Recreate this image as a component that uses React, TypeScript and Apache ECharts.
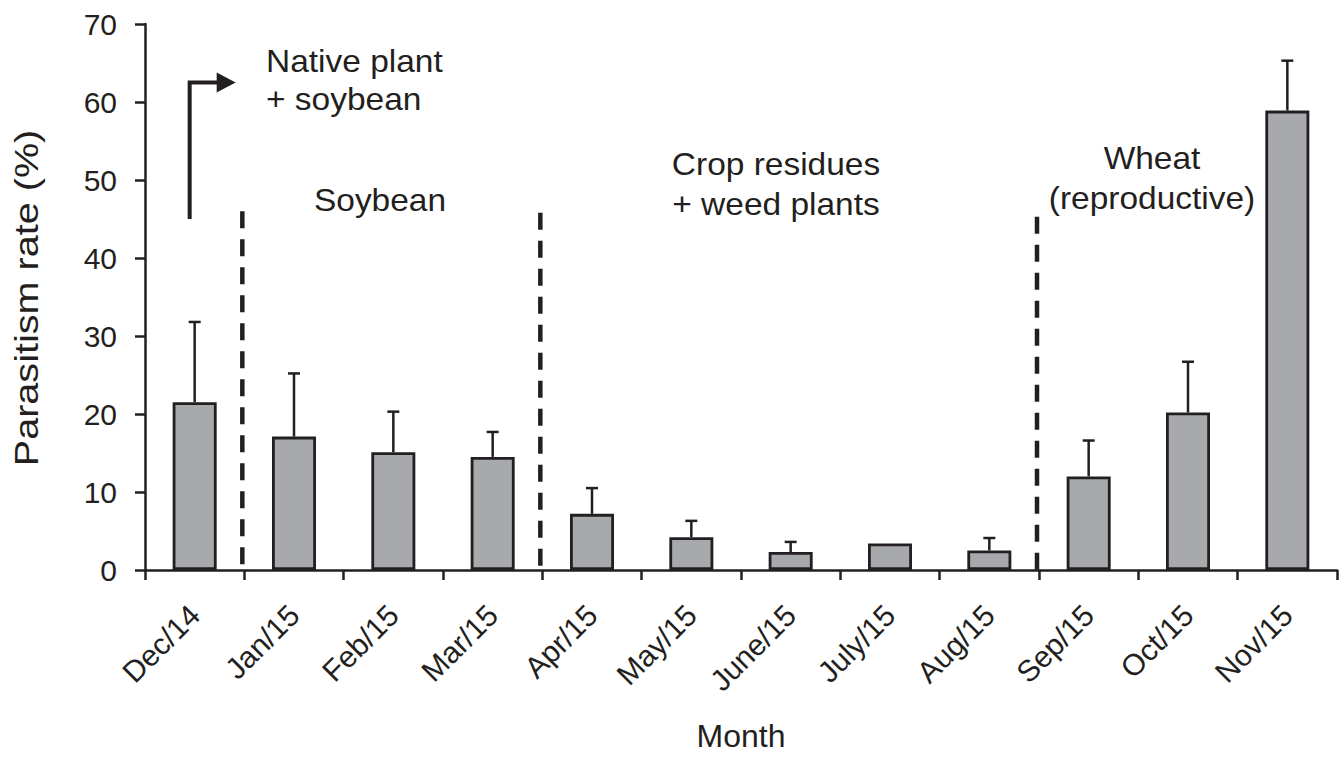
import React, { useEffect, useRef } from "react";
import * as echarts from "echarts";

const months = ["Dec/14", "Jan/15", "Feb/15", "Mar/15", "Apr/15", "May/15", "June/15", "July/15", "Aug/15", "Sep/15", "Oct/15", "Nov/15"];
const parasitism = [21.5, 17.1, 15.1, 14.5, 7.2, 4.2, 2.3, 3.4, 2.5, 12.0, 20.2, 58.9];
const errorUpper = [31.8, 25.2, 20.3, 17.7, 10.5, 6.3, 3.6, null, 4.1, 16.6, 26.7, 65.3];
const dividerAfter = [0, 3, 8];
const dividerTop = [46, 45.8, 45.3];
const arrowSpan = [0, 45, 62.5];

const FONT = "'Liberation Sans', Arial, Helvetica, sans-serif";
const INK = "#231f20";

export default function App() {
  const ref = useRef<HTMLDivElement>(null);
  useEffect(() => {
    if (!ref.current) return;
    const chart = echarts.init(ref.current, null, { renderer: "svg" });
    const textStyle = { fontFamily: FONT, fontSize: 31, fill: INK };
    chart.setOption({
      animation: false,
      backgroundColor: "#ffffff",
      grid: { left: 145, right: 3, top: 24, bottom: 181, containLabel: false },
      xAxis: {
        type: "category",
        data: months,
        name: "Month",
        nameLocation: "middle",
        nameGap: 150,
        nameTextStyle: { fontFamily: FONT, fontSize: 32, color: INK },
        axisLine: { lineStyle: { color: INK, width: 2.5 } },
        axisTick: { show: true, length: 10, interval: 0, lineStyle: { color: INK, width: 2.5 } },
        axisLabel: { interval: 0, rotate: 45, margin: 40, fontFamily: FONT, fontSize: 30, color: INK },
      },
      yAxis: {
        type: "value",
        min: 0,
        max: 70,
        interval: 10,
        splitLine: { show: false },
        axisLine: { show: true, lineStyle: { color: INK, width: 2.5 } },
        axisTick: { show: true, length: 10, lineStyle: { color: INK, width: 2.5 } },
        axisLabel: { margin: 28, fontFamily: FONT, fontSize: 30, color: INK },
      },
      series: [
        {
          type: "bar",
          data: parasitism,
          barWidth: 44,
          itemStyle: { color: "#a7a9ac", borderColor: INK, borderWidth: 2.8 },
          z: 2,
        },
        {
          type: "custom",
          z: 3,
          data: months.map((_, i) => [i, parasitism[i], errorUpper[i]]),
          renderItem: (params: any, api: any) => {
            const up = api.value(2);
            if (up === null || up === undefined || isNaN(up)) return null;
            const idx = api.value(0);
            const base = api.coord([idx, api.value(1)]);
            const top = api.coord([idx, up]);
            const half = 6;
            return {
              type: "group",
              children: [
                { type: "line", shape: { x1: base[0], y1: base[1], x2: top[0], y2: top[1] }, style: { stroke: INK, lineWidth: 2.5 } },
                { type: "line", shape: { x1: top[0] - half, y1: top[1], x2: top[0] + half, y2: top[1] }, style: { stroke: INK, lineWidth: 2.5 } },
              ],
            };
          },
        },
        {
          type: "custom",
          z: 4,
          data: dividerAfter.map((d, i) => [d, dividerTop[i]]),
          renderItem: (params: any, api: any) => {
            const idx = api.value(0);
            const halfCat = api.size([1, 0])[0] / 2;
            const top = api.coord([idx, api.value(1)]);
            const bottom = api.coord([idx, 0]);
            const x = top[0] + halfCat - 2;
            return {
              type: "line",
              shape: { x1: x, y1: top[1], x2: x, y2: bottom[1] },
              style: { stroke: INK, lineWidth: 4.5, lineDash: [17, 11] },
            };
          },
        },
        {
          type: "custom",
          z: 4,
          data: [arrowSpan],
          renderItem: (params: any, api: any) => {
            const idx = api.value(0);
            const low = api.coord([idx, api.value(1)]);
            const high = api.coord([idx, api.value(2)]);
            const x = low[0] - 5;
            const y = high[1];
            return {
              type: "group",
              children: [
                { type: "polyline", shape: { points: [[x, low[1]], [x, y], [x + 30, y]] }, style: { stroke: INK, lineWidth: 4, fill: null } },
                { type: "polygon", shape: { points: [[x + 27, y - 10], [x + 46, y], [x + 27, y + 10]] }, style: { fill: INK } },
              ],
            };
          },
        },
      ],
      graphic: [
        { type: "text", x: 27, y: 298, rotation: Math.PI / 2, scaleX: 1.2, style: { fontFamily: FONT, fontSize: 33, fill: INK, text: "Parasitism rate (%)", align: "center", verticalAlign: "middle" } },
        { type: "text", x: 266, y: 80, scaleX: 1.08, style: { ...textStyle, text: "Native plant\n+ soybean", verticalAlign: "middle", lineHeight: 38 } },
        { type: "text", x: 380, y: 200, scaleX: 1.08, style: { ...textStyle, text: "Soybean", align: "center", verticalAlign: "middle" } },
        { type: "text", x: 776, y: 184, scaleX: 1.08, style: { ...textStyle, text: "Crop residues\n+ weed plants", align: "center", verticalAlign: "middle", lineHeight: 40 } },
        { type: "text", x: 1152, y: 178, scaleX: 1.08, style: { ...textStyle, text: "Wheat\n(reproductive)", align: "center", verticalAlign: "middle", lineHeight: 40 } },
      ],
    });
    return () => chart.dispose();
  }, []);
  return <div ref={ref} style={{ position: "absolute", left: 0, top: 0, width: 1340, height: 757 }} />;
}
